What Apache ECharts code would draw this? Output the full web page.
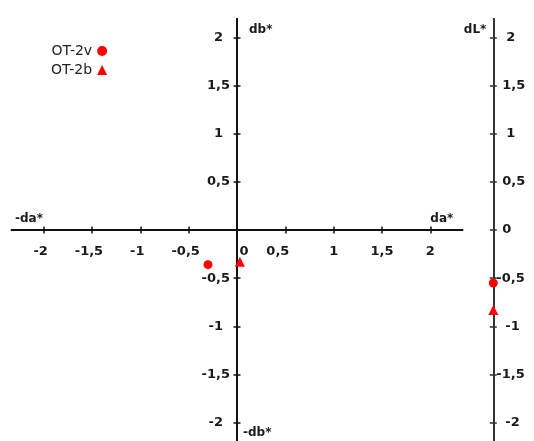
<!DOCTYPE html>
<html>
<head>
<meta charset="utf-8">
<script src="https://cdn.jsdelivr.net/npm/echarts@6/dist/echarts.min.js"></script>
<style>
html, body { margin: 0; padding: 0; background: #fff; }
#chart { width: 534px; height: 441px; }
</style>
</head>
<body>
<div id="chart"></div>
<script>
// samples
const seriesNames = ['OT-2v', 'OT-2b']
const seriesSymbols = ['circle', 'triangle']
const daValues = [-0.30, 0.03]
const dbValues = [-0.36, -0.33]
const dLValues = [-0.55, -0.83]

// tick labels
const daTicks = [-2, -1.5, -1, -0.5, 0, 0.5, 1, 1.5, 2]
const dbTicks = [-2, -1.5, -1, -0.5, 0.5, 1, 1.5, 2]
const dLTicks = [-2, -1.5, -1, -0.5, 0, 0.5, 1, 1.5, 2]

const FONT = 'DejaVu Sans'
const TEXT = '#1a1a1a'
const AXIS = '#111'
const RED = '#ff0000'

// plot box, the zero lines sit in the middle of it
const G = { left: 11.7, width: 450.6, top: 19, height: 422 }
const DA_MAX = 2.33
const DB_MAX = 2.19
const xZeroOff = -G.width / 2   // pixels from grid edge to da*=0
const yZeroOff = -G.height / 2  // pixels from grid edge to db*=0

function comma(v) {
    return String(v).replace('.', ',')
}
function lbl(pad) {
    return { fontFamily: FONT, fontSize: 13, fontWeight: 'bold', color: TEXT, padding: pad }
}
const nameStyle = { fontFamily: FONT, fontSize: 12, fontWeight: 'bold', color: TEXT }
const mainLine = { show: true, onZero: false, lineStyle: { color: AXIS, width: 2 } }
const dLLine = { show: true, onZero: false, lineStyle: { color: '#333', width: 2 } }
const mainTick = (vals) => ({ customValues: vals, length: 3.5, lineStyle: { color: AXIS, width: 1.5 } })
const dLTick = { customValues: dLTicks, length: 3.5, lineStyle: { color: '#333', width: 1.5 } }

let myChart = echarts.init(document.getElementById('chart'))

const series = []
seriesNames.forEach((name, i) => {
    series.push({
        name: name,
        type: 'scatter',
        xAxisIndex: 0,
        yAxisIndex: 0,
        symbol: seriesSymbols[i],
        symbolSize: i == 0 ? 9 : 10,
        itemStyle: { color: RED, opacity: 1 },
        data: [[daValues[i], dbValues[i]]]
    })
    // same sample on the dL* scale
    series.push({
        name: name,
        type: 'scatter',
        xAxisIndex: 2,
        yAxisIndex: 2,
        symbol: seriesSymbols[i],
        symbolSize: i == 0 ? 9 : 10,
        itemStyle: { color: RED, opacity: 1 },
        data: [[0, dLValues[i]]]
    })
})

let option = {
    animation: false,
    legend: {
        orient: 'vertical',
        align: 'right',
        left: 51,
        top: 44,
        padding: 0,
        itemGap: 5,
        itemWidth: 10,
        itemHeight: 10,
        selectedMode: false,
        itemStyle: { opacity: 1 },
        textStyle: { fontFamily: FONT, fontSize: 14, color: '#222' },
        data: seriesNames.map((n, i) => ({ name: n, icon: seriesSymbols[i] }))
    },
    grid: [
        { left: G.left, width: G.width, top: G.top, height: G.height, containLabel: false, outerBoundsMode: 'none' },
        { left: 493.3, width: 20, top: G.top, height: G.height, containLabel: false, outerBoundsMode: 'none' }
    ],
    xAxis: [
        {
            gridIndex: 0,
            type: 'value',
            min: -DA_MAX,
            max: DA_MAX,
            position: 'bottom',
            offset: yZeroOff,
            axisLine: mainLine,
            axisTick: mainTick(daTicks),
            axisLabel: {
                customValues: daTicks,
                margin: 15,
                formatter: function (v) {
                    if (v === 0) return '{z|0}'
                    if (v === 0.5) return '{h|0,5}'
                    if (v < 0) return '{n|' + comma(v) + '}'
                    return '{p|' + comma(v) + '}'
                },
                rich: {
                    z: lbl([0, 0, 0, 14]),
                    h: lbl([0, 15, 0, 0]),
                    n: lbl([0, 6, 0, 0]),
                    p: lbl(0)
                }
            },
            splitLine: { show: false },
            name: '-da*',
            nameLocation: 'start',
            nameGap: -3.3,
            nameTextStyle: Object.assign({ align: 'left', verticalAlign: 'bottom', padding: [0, 0, 5, 0] }, nameStyle)
        },
        {
            gridIndex: 0,
            type: 'value',
            min: -DA_MAX,
            max: DA_MAX,
            position: 'top',
            offset: yZeroOff,
            axisLine: mainLine,
            axisTick: mainTick(daTicks),
            axisLabel: { show: false },
            splitLine: { show: false },
            name: 'da*',
            nameLocation: 'end',
            nameGap: -9,
            nameTextStyle: Object.assign({ align: 'right', verticalAlign: 'bottom', padding: [0, 0, 5, 0] }, nameStyle)
        },
        {
            gridIndex: 1,
            type: 'value',
            min: 0,
            max: 1,
            show: false
        }
    ],
    yAxis: [
        {
            gridIndex: 0,
            type: 'value',
            min: -DB_MAX,
            max: DB_MAX,
            position: 'left',
            offset: xZeroOff,
            axisLine: mainLine,
            axisTick: mainTick(dbTicks),
            axisLabel: {
                customValues: dbTicks,
                margin: 7,
                formatter: function (v) {
                    return Number.isInteger(v) ? '{i|' + v + '}' : '{a|' + comma(v) + '}'
                },
                rich: {
                    i: lbl([0, 7, 0, 0]),
                    a: lbl(0)
                }
            },
            splitLine: { show: false },
            name: '-db*',
            nameLocation: 'start',
            nameGap: -8,
            nameTextStyle: Object.assign({ align: 'left', verticalAlign: 'middle', padding: [0, 0, 0, 6] }, nameStyle)
        },
        {
            gridIndex: 0,
            type: 'value',
            min: -DB_MAX,
            max: DB_MAX,
            position: 'right',
            offset: xZeroOff,
            axisLine: mainLine,
            axisTick: mainTick(dbTicks),
            axisLabel: { show: false },
            splitLine: { show: false },
            name: 'db*',
            nameLocation: 'end',
            nameGap: -11,
            nameTextStyle: Object.assign({ align: 'left', verticalAlign: 'middle', padding: [0, 0, 0, 12] }, nameStyle)
        },
        {
            gridIndex: 1,
            type: 'value',
            min: -DB_MAX,
            max: DB_MAX,
            position: 'right',
            offset: -20,
            axisLine: dLLine,
            axisTick: dLTick,
            axisLabel: {
                customValues: dLTicks,
                margin: 3,
                formatter: function (v) {
                    if (v === 0) return '{z|0}'
                    if (Number.isInteger(v)) return (v < 0 ? '{m|' : '{q|') + v + '}'
                    return (v < 0 ? '{a|' : '{b|') + comma(v) + '}'
                },
                rich: {
                    z: lbl([0, 0, 0, 6]),
                    m: lbl([0, 0, 0, 9]),
                    q: lbl([0, 0, 0, 10]),
                    a: lbl(0),
                    b: lbl([0, 0, 0, 6])
                }
            },
            splitLine: { show: false }
        },
        {
            gridIndex: 1,
            type: 'value',
            min: -DB_MAX,
            max: DB_MAX,
            position: 'left',
            axisLine: dLLine,
            axisTick: dLTick,
            axisLabel: { show: false },
            splitLine: { show: false },
            name: 'dL*',
            nameLocation: 'end',
            nameGap: -11,
            nameTextStyle: Object.assign({ align: 'right', verticalAlign: 'middle', padding: [0, 7, 0, 0] }, nameStyle)
        }
    ],
    series: series
}

option && myChart.setOption(option)
</script>
</body>
</html>
